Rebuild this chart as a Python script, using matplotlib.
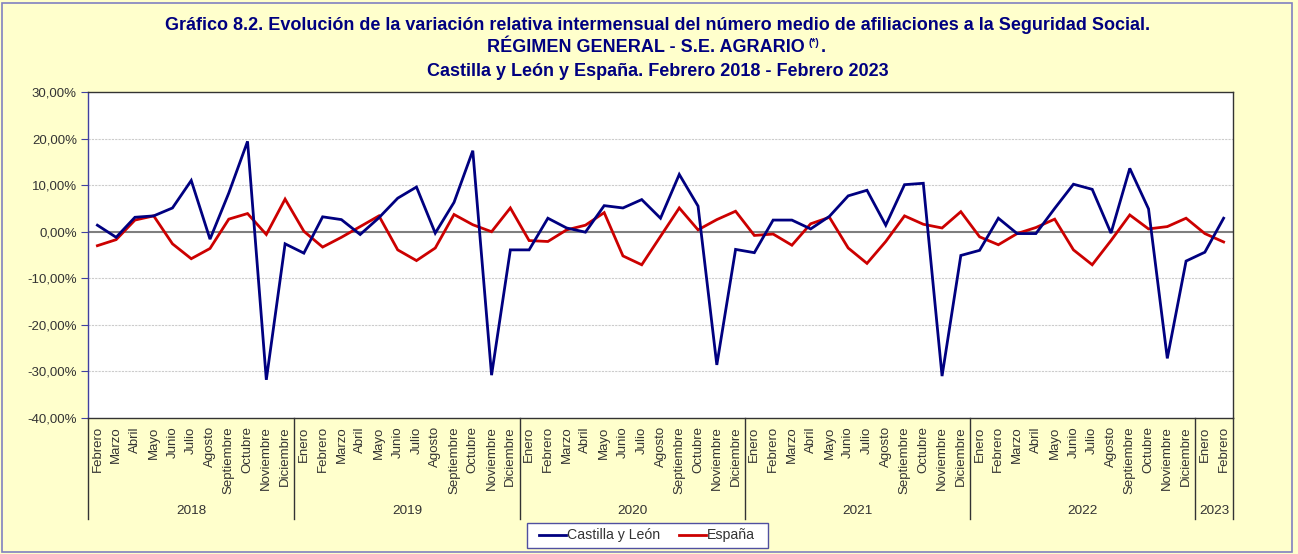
import matplotlib
matplotlib.use("Agg")
import matplotlib.pyplot as plt
from matplotlib.patches import Rectangle
from matplotlib.lines import Line2D
import numpy as np

months = ["Febrero", "Marzo", "Abril", "Mayo", "Junio", "Julio", "Agosto", "Septiembre", "Octubre", "Noviembre", "Diciembre",
          "Enero", "Febrero", "Marzo", "Abril", "Mayo", "Junio", "Julio", "Agosto", "Septiembre", "Octubre", "Noviembre", "Diciembre",
          "Enero", "Febrero", "Marzo", "Abril", "Mayo", "Junio", "Julio", "Agosto", "Septiembre", "Octubre", "Noviembre", "Diciembre",
          "Enero", "Febrero", "Marzo", "Abril", "Mayo", "Junio", "Julio", "Agosto", "Septiembre", "Octubre", "Noviembre", "Diciembre",
          "Enero", "Febrero", "Marzo", "Abril", "Mayo", "Junio", "Julio", "Agosto", "Septiembre", "Octubre", "Noviembre", "Diciembre",
          "Enero", "Febrero"]
years = ["2018", "2019", "2020", "2021", "2022", "2023"]
year_counts = [11, 12, 12, 12, 12, 2]

castilla = [1.4, -1.2, 3.1, 3.4, 5.1, 11.0, -1.6, 8.3, 19.4, -31.8, -2.6,
            -4.6, 3.2, 2.6, -0.6, 3.0, 7.2, 9.6, -0.3, 6.3, 17.4, -30.8, -3.9,
            -3.9, 2.9, 0.8, -0.1, 5.6, 5.1, 6.9, 2.9, 12.3, 5.5, -28.6, -3.8,
            -4.5, 2.5, 2.5, 0.6, 3.3, 7.7, 8.9, 1.4, 10.1, 10.4, -31.0, -5.1,
            -4.0, 2.9, -0.4, -0.4, 5.0, 10.2, 9.1, -0.3, 13.6, 4.9, -27.2, -6.3,
            -4.4, 2.9]
espana = [-3.0, -1.7, 2.5, 3.4, -2.6, -5.8, -3.6, 2.7, 3.9, -0.6, 7.0,
          0.1, -3.3, -1.2, 1.1, 3.4, -3.9, -6.2, -3.5, 3.7, 1.5, 0.0, 5.1,
          -1.9, -2.1, 0.4, 1.4, 4.1, -5.2, -7.1, -1.0, 5.1, 0.4, 2.6, 4.4,
          -0.8, -0.5, -2.9, 1.7, 3.1, -3.5, -6.8, -2.1, 3.4, 1.6, 0.8, 4.3,
          -1.1, -2.8, -0.4, 0.9, 2.7, -3.9, -7.1, -1.9, 3.6, 0.6, 1.1, 2.9,
          -0.4, -2.2]

yticks = [-40, -30, -20, -10, 0, 10, 20, 30]
ytick_labels = ["-40,00%", "-30,00%", "-20,00%", "-10,00%", "0,00%", "10,00%", "20,00%", "30,00%"]

FONT = "Liberation Sans"
NAVY = "#000080"
RED = "#CC0000"
BG = "#FFFFCC"
TXT = "#333333"

W, H = 1298, 554
fig = plt.figure(figsize=(W / 100, H / 100), dpi=100, facecolor=BG)

# outer border
fig.patches.append(Rectangle((2 / W, 2 / H), 1290 / W, 549 / H, transform=fig.transFigure,
                             fill=False, edgecolor="#8080C0", linewidth=1.2))

left, right, top, bottom = 88, 1233, 92, 418
ax = fig.add_axes([left / W, 1 - bottom / H, (right - left) / W, (bottom - top) / H])
ax.set_facecolor("white")

x = np.arange(len(months))
ax.set_xlim(-0.5, len(months) - 0.5)
ax.set_ylim(-40, 30)

for yv in yticks:
    if yv not in (0, -40, 30):
        ax.axhline(yv, color="#CCCCCC", linewidth=0.8, linestyle=(0, (2, 1)), zorder=1)
ax.axhline(0, color="#7F7F7F", linewidth=1.5, zorder=2)

ax.plot(x, castilla, color=NAVY, linewidth=2.0, zorder=4, label="Castilla y León", solid_joinstyle="miter")
ax.plot(x, espana, color=RED, linewidth=2.0, zorder=3, label="España", solid_joinstyle="miter")

ax.set_yticks(yticks)
ax.set_yticklabels(ytick_labels, fontfamily=FONT, fontsize=9.5, color=TXT)
ax.tick_params(axis="y", length=5, width=0.8, color="#4040A0", pad=3)

ax.set_xticks(x)
ax.set_xticklabels(months, rotation=90, fontfamily=FONT, fontsize=9.5, color=TXT, va="top")
ax.tick_params(axis="x", length=0, pad=6)

for s in ["top", "right", "bottom"]:
    ax.spines[s].set_color("#333333")
    ax.spines[s].set_linewidth(1.0)
ax.spines["left"].set_color("#4040A0")
ax.spines["left"].set_linewidth(1.0)

# year separators and labels
trans = ax.get_xaxis_transform()
sep_depth = -(519 - bottom) / (bottom - top)
pos = -0.5
bounds = [pos]
for c in year_counts:
    pos += c
    bounds.append(pos)
for b in bounds:
    ax.add_line(Line2D([b, b], [0, sep_depth], transform=trans, color="#333333", linewidth=1.0, clip_on=False))
year_y = -(511 - bottom) / (bottom - top)
for i, yr in enumerate(years):
    mid = (bounds[i] + bounds[i + 1]) / 2
    ax.text(mid, year_y, yr, transform=trans, ha="center", va="center", fontfamily=FONT,
            fontsize=9.7, color=TXT)

# title
TS = 13
cx = 658 / W
fig.text(cx, 1 - 26 / H, "Gráfico 8.2. Evolución de la variación relativa intermensual del número medio de afiliaciones a la Seguridad Social.",
         ha="center", va="center", fontfamily=FONT, fontweight="bold", fontsize=TS, color=NAVY)
t2 = fig.text(cx - 12 / W, 1 - 47 / H, "RÉGIMEN GENERAL - S.E. AGRARIO",
              ha="center", va="center", fontfamily=FONT, fontweight="bold", fontsize=TS, color=NAVY)
fig.canvas.draw()
bb = t2.get_window_extent()
sup = fig.text(bb.x1 / W + 4 / W, 1 - 43 / H, "(*)", ha="left", va="center", fontfamily=FONT,
               fontweight="bold", fontsize=7.5, color=NAVY)
fig.canvas.draw()
bb2 = sup.get_window_extent()
fig.text(bb2.x1 / W + 1 / W, 1 - 47 / H, ".", ha="left", va="center", fontfamily=FONT,
         fontweight="bold", fontsize=TS, color=NAVY)
fig.text(cx, 1 - 72 / H, "Castilla y León y España. Febrero 2018 - Febrero 2023",
         ha="center", va="center", fontfamily=FONT, fontweight="bold", fontsize=TS, color=NAVY)

# legend
leg = fig.legend(loc="center", bbox_to_anchor=(647 / W, 1 - 535.5 / H), ncol=2, frameon=True,
                 fancybox=False, edgecolor="#5050A0", facecolor="white", framealpha=1,
                 prop={"family": FONT, "size": 10.2}, handlelength=1.9, handletextpad=0.1,
                 columnspacing=1.3, borderpad=0.4, borderaxespad=0)
leg.get_frame().set_linewidth(1.0)
leg._legend_box.pad = 0  # keep default internal layout
for t in leg.get_texts():
    t.set_color(TXT)
# widen legend box horizontally to match the reference frame
leg._legend_box.align = "center"
leg.get_children()[0].sep = 0
leg.borderpad = 0.4
frame = leg.get_frame()
frame.set_boxstyle("square", pad=0.0)

fig.canvas.draw()
fb = leg.get_window_extent()
# draw reference-sized frame behind legend contents
frame.set_visible(False)
fig.patches.append(Rectangle((527 / W, 1 - 548 / H), (768 - 527) / W, 25 / H, transform=fig.transFigure,
                             facecolor="white", edgecolor="#5050A0", linewidth=1.0, zorder=0))

fig.savefig("out.png", dpi=100, facecolor=BG)
